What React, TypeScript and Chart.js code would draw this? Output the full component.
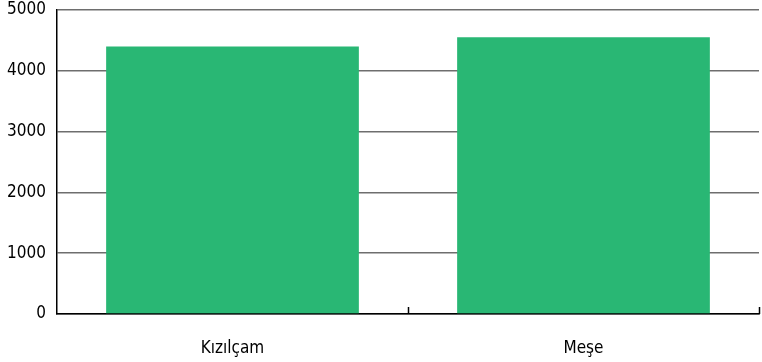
import React, { useEffect, useRef } from "react";
import { Chart, registerables } from "chart.js";

Chart.register(...registerables);

const categories = ["Kızılçam", "Meşe"];
const values = [4400, 4550];
const yTicks = [0, 1000, 2000, 3000, 4000, 5000];

const FONT = '"DejaVu Sans Condensed", "Liberation Sans Narrow", sans-serif';

const boundaryTicks = {
  id: "boundaryTicks",
  afterDraw(chart: any) {
    const x = chart.scales.x;
    const { ctx, chartArea } = chart;
    const n = categories.length;
    const step = n > 1 ? x.getPixelForValue(1) - x.getPixelForValue(0) : chartArea.right - chartArea.left;
    ctx.save();
    ctx.strokeStyle = "#000";
    ctx.lineWidth = 1.5;
    for (let i = 0; i < n; i++) {
      const px = x.getPixelForValue(i) + step / 2;
      ctx.beginPath();
      ctx.moveTo(Math.round(px) + 0.5, chartArea.bottom);
      ctx.lineTo(Math.round(px) + 0.5, chartArea.bottom - 7);
      ctx.stroke();
    }
    ctx.restore();
  },
};

export default function App() {
  const ref = useRef<HTMLCanvasElement>(null);
  useEffect(() => {
    const chart = new Chart(ref.current!, {
      type: "bar",
      data: {
        labels: categories,
        datasets: [
          {
            data: values,
            backgroundColor: "#29b774",
            borderWidth: 0,
          },
        ],
      },
      options: {
        animation: false,
        responsive: true,
        maintainAspectRatio: false,
        layout: { padding: { top: 0, right: 3, left: 0, bottom: 0 } },
        plugins: { legend: { display: false }, tooltip: { enabled: false } },
        scales: {
          x: {
            grid: { display: false, drawTicks: false },
            border: { display: true, color: "#000", width: 1.5 },
            afterFit: (axis: any) => {
              axis.height = 48;
            },
            ticks: {
              color: "#000",
              padding: 24,
              font: { family: FONT, size: 17 },
            },
          },
          y: {
            min: 0,
            max: 5000,
            afterBuildTicks: (axis: any) => {
              axis.ticks = yTicks.map((v) => ({ value: v }));
            },
            afterFit: (axis: any) => {
              axis.width = 57;
              axis.paddingTop = 10;
            },
            grid: { color: "#6e6e6e", lineWidth: 1.5, drawTicks: false },
            border: { display: true, color: "#000", width: 1.5 },
            ticks: {
              color: "#000",
              padding: 11,
              font: { family: FONT, size: 17 },
              callback: (v: any) => String(v),
            },
          },
        },
      },
      plugins: [boundaryTicks],
    });
    return () => chart.destroy();
  }, []);
  return (
    <div style={{ position: "fixed", left: 0, top: 0, width: 762, height: 362, background: "#fff" }}>
      <canvas ref={ref} />
    </div>
  );
}
